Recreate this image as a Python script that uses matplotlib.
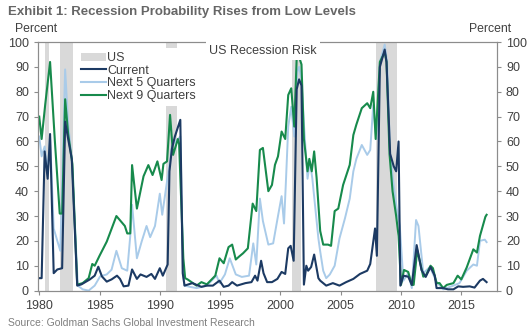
import matplotlib
matplotlib.use("Agg")
import matplotlib.pyplot as plt
from matplotlib.patches import Patch
from matplotlib.lines import Line2D

plt.rcParams["font.family"] = ["Liberation Sans", "DejaVu Sans"]

# Recession shading (start, end) as fractional years
recessions = [(1980.5, 1980.8), (1981.75, 1982.8), (1990.5, 1991.45),
              (2000.95, 2001.7), (2007.9, 2009.7)]

# Current
current_t = [1980.0, 1980.2, 1980.45, 1980.7, 1980.9, 1981.2, 1981.5, 1981.9, 1982.15, 1982.4,
             1982.7, 1983.15, 1983.5, 1984.2, 1984.6, 1984.9, 1985.2, 1985.6, 1986.0, 1986.45,
             1986.7, 1987.0, 1987.4, 1987.7, 1988.1, 1988.4, 1988.9, 1989.3, 1989.6, 1990.0,
             1990.25, 1990.65, 1990.8, 1991.0, 1991.25, 1991.7, 1991.9, 1992.05, 1992.7, 1993.45,
             1993.9, 1994.4, 1994.95, 1995.3, 1995.7, 1996.0, 1996.4, 1997.1, 1997.6, 1997.9,
             1998.1, 1998.4, 1998.6, 1998.9, 1999.3, 1999.75, 2000.1, 2000.4, 2000.65, 2000.85,
             2001.1, 2001.35, 2001.55, 2001.75, 2001.95, 2002.15, 2002.3, 2002.55, 2002.8, 2003.15,
             2003.3, 2003.8, 2004.35, 2004.9, 2005.45, 2006.05, 2006.6, 2007.2, 2007.45, 2007.85,
             2008.0, 2008.25, 2008.65, 2008.8, 2009.1, 2009.4, 2009.6, 2009.8, 2009.95, 2010.2,
             2010.6, 2010.9, 2011.3, 2011.7, 2012.05, 2012.45, 2012.8, 2012.95, 2013.5, 2013.9,
             2014.35, 2014.75, 2015.15, 2015.7, 2016.1, 2016.55, 2016.8, 2017.1]
current_v = [5, 5, 56, 45, 63, 7, 8.5, 9, 68, 61,
             53, 2, 2.5, 4.5, 6, 9.6, 5.7, 3.6, 4.5, 6,
             4.7, 1.7, 2, 8.5, 4.7, 6.5, 5.5, 6.7, 4.7, 9,
             6, 10.5, 48, 57, 62, 68.7, 7, 2, 3, 1.5,
             2, 2, 4, 1.5, 2, 3.4, 2, 3, 3.4, 6,
             4, 12, 7, 3.4, 3.4, 4.7, 7.5, 6.7, 17, 18,
             12, 81, 85, 82.5, 2.4, 10, 8, 9.5, 14.5, 5,
             4, 2, 3, 2, 3.4, 4.7, 6.7, 8, 10.7, 25,
             14, 90, 97, 92, 55, 50, 48, 60, 2, 6,
             5.6, 2.3, 18.3, 8.3, 5.5, 9.5, 6, 1, 1, 0.5,
             0.5, 1.7, 1.5, 1.7, 1.2, 4, 4.7, 3.4]

# Next 5 Quarters
next5_t = [1980.0, 1980.2, 1980.45, 1980.7, 1980.9, 1981.2, 1981.5, 1981.75, 1982.15, 1982.4,
           1982.7, 1983.2, 1983.6, 1984.1, 1984.6, 1985.05, 1985.6, 1986.0, 1986.4, 1986.85,
           1987.3, 1987.55, 1987.7, 1988.1, 1988.5, 1988.9, 1989.2, 1989.6, 1990.0, 1990.2,
           1990.6, 1990.85, 1991.0, 1991.3, 1991.7, 1991.95, 1992.05, 1992.5, 1993.05, 1993.9,
           1994.7, 1994.95, 1995.4, 1995.8, 1996.3, 1996.8, 1997.4, 1997.75, 1998.0, 1998.3,
           1998.55, 1999.0, 1999.4, 1999.8, 2000.1, 2000.3, 2000.45, 2000.65, 2000.9, 2001.15,
           2001.4, 2001.55, 2001.75, 2001.95, 2002.25, 2002.45, 2002.65, 2003.15, 2003.3, 2003.55,
           2003.8, 2004.1, 2004.5, 2004.9, 2005.35, 2005.75, 2006.05, 2006.3, 2006.75, 2007.2,
           2007.45, 2007.7, 2007.95, 2008.25, 2008.65, 2008.85, 2009.1, 2009.4, 2009.65, 2009.9,
           2010.2, 2010.6, 2010.9, 2011.25, 2011.45, 2011.85, 2012.4, 2012.95, 2013.5, 2014.35,
           2014.85, 2015.45, 2016.0, 2016.3, 2016.55, 2016.95, 2017.1]
next5_v = [62, 54, 58, 48, 62, 25, 20, 16, 89, 67,
           53, 2, 0.5, 0, 2, 5.7, 6.5, 8.4, 16, 9,
           8, 22, 34.5, 13, 19.8, 26, 21.5, 26, 39, 30.5,
           44, 52, 58, 60, 62, 6, 2, 1.5, 1, 2,
           6, 3, 6.5, 13, 6.5, 5.5, 6, 19, 10.5, 37,
           28, 18.5, 19, 30, 38, 27, 43, 66, 74, 62,
           88, 90, 85, 67, 45, 52, 45, 21, 15.8, 8,
           5, 6.5, 10, 21, 29, 37, 48, 53, 58.6, 54.6,
           56.6, 74.7, 61, 92, 99, 92, 55, 42, 33, 26,
           4, 7, 1, 28.4, 26, 7, 9.5, 3.5, 0.5, 2,
           3, 8, 10.5, 10, 20, 20.5, 19.5]

# Next 9 Quarters
next9_t = [1980.0, 1980.2, 1980.5, 1980.9, 1981.3, 1981.7, 1981.9, 1982.15, 1982.4, 1982.75,
           1983.15, 1983.6, 1984.1, 1984.4, 1984.6, 1985.0, 1985.6, 1986.4, 1987.1, 1987.3,
           1987.55, 1987.7, 1988.1, 1988.65, 1989.05, 1989.4, 1989.8, 1990.15, 1990.3, 1990.6,
           1990.85, 1991.1, 1991.5, 1991.6, 1991.95, 1992.1, 1992.3, 1993.05, 1993.45, 1993.9,
           1994.6, 1994.95, 1995.3, 1995.7, 1996.0, 1996.3, 1996.6, 1996.9, 1997.3, 1997.7,
           1998.0, 1998.3, 1998.55, 1999.0, 1999.3, 1999.55, 1999.8, 2000.1, 2000.4, 2000.65,
           2000.9, 2001.15, 2001.35, 2001.55, 2001.75, 2001.95, 2002.25, 2002.4, 2002.6, 2002.8,
           2003.0, 2003.3, 2003.55, 2003.95, 2004.2, 2004.5, 2004.8, 2005.2, 2005.75, 2006.05,
           2006.3, 2006.75, 2007.2, 2007.45, 2007.7, 2007.9, 2008.25, 2008.65, 2008.8, 2009.05,
           2009.3, 2009.6, 2009.8, 2010.0, 2010.25, 2010.6, 2010.9, 2011.05, 2011.35, 2011.85,
           2012.05, 2012.45, 2012.65, 2012.95, 2013.2, 2013.5, 2013.8, 2014.35, 2014.7, 2015.0,
           2015.45, 2016.0, 2016.3, 2016.55, 2017.0, 2017.1]
next9_v = [70, 61, 75, 92, 60, 31, 31, 77, 63, 51,
           2.4, 3, 5, 10.7, 10, 14, 19.7, 30, 26, 23,
           23, 50.5, 33, 46, 50.5, 46.5, 52, 44.5, 51, 52,
           70.7, 54.6, 61, 59, 13, 5, 4.5, 2, 3.4, 2.5,
           6, 13, 11, 17.5, 18.5, 12.5, 13.8, 15, 17, 35,
           32, 56.6, 57.4, 40, 42.5, 50.6, 54, 64, 61, 78.7,
           81.4, 66, 93.5, 94, 91, 61, 48, 53, 48, 56,
           45.5, 24, 18.5, 18.5, 18, 32, 33, 42.5, 50.6, 62.6,
           66.8, 73.4, 75.4, 73.4, 80, 61, 92, 96, 92, 55,
           40, 30, 22, 2.3, 8.3, 7.5, 2.3, 2.3, 16.3, 5.6,
           6, 10, 9, 3, 3, 1, 2.3, 3, 6, 4.5,
           9.3, 16.6, 15.3, 22, 29.7, 30.5]

y_ticks = list(range(0, 101, 10))
x_ticks = [1980, 1985, 1990, 1995, 2000, 2005, 2010, 2015]

NAVY = "#1c3a63"
LIGHT = "#a9cbe9"
GREEN = "#178a4c"
BAND = "#d9d9d9"
SPINE = "#8c8c8c"
TXT = "#404040"

fig = plt.figure(figsize=(5.28, 3.34), dpi=100)
ax = fig.add_axes([0.072, 0.13, 0.869, 0.744])

for start, end in recessions:
    ax.axvspan(start, end, color=BAND, lw=0, zorder=0)

ax.plot(next5_t, next5_v, color=LIGHT, lw=1.4, zorder=2)
ax.plot(next9_t, next9_v, color=GREEN, lw=1.5, zorder=3)
ax.plot(current_t, current_v, color=NAVY, lw=1.5, zorder=4)

ax.set_xlim(1979.9, 2017.95)
ax.set_ylim(0, 100)
ax.set_xticks(x_ticks)
ax.set_yticks(y_ticks)
ax.tick_params(axis="both", labelsize=9, colors=SPINE, labelcolor=TXT, length=3, width=0.8)
for s in ax.spines.values():
    s.set_color(SPINE)
    s.set_linewidth(0.8)

ax2 = ax.twinx()
ax2.set_ylim(0, 100)
ax2.set_yticks(y_ticks)
ax2.tick_params(axis="y", labelsize=9, colors=SPINE, labelcolor=TXT, length=3, width=0.8)
for s in ax2.spines.values():
    s.set_color(SPINE)
    s.set_linewidth(0.8)

handles = [Patch(facecolor=BAND, edgecolor="none"),
           Line2D([], [], color=NAVY, lw=1.5),
           Line2D([], [], color=LIGHT, lw=1.5),
           Line2D([], [], color=GREEN, lw=1.5)]
labels = ["US", "Current", "Next 5 Quarters", "Next 9 Quarters"]
leg = ax2.legend(handles, labels, loc="upper left", bbox_to_anchor=(0.085, 0.975),
                 fontsize=9, frameon=True, facecolor="white", edgecolor="none",
                 framealpha=1, fancybox=False, borderpad=0.3, labelspacing=0.05,
                 handlelength=2.0, handleheight=0.6, handletextpad=0.1, borderaxespad=0)
for t in leg.get_texts():
    t.set_color(TXT)

ax2.text(0.49, 0.965, "US Recession Risk", transform=ax.transAxes, ha="center", va="center",
         fontsize=9, color=TXT,
         bbox=dict(facecolor="white", edgecolor="none", pad=2.5))

fig.text(0.015, 0.965, "Exhibit 1: Recession Probability Rises from Low Levels",
         fontsize=9.5, fontweight="bold", color="#666666", va="center")
fig.text(0.068, 0.912, "Percent", fontsize=8.8, color=TXT, ha="center", va="center")
fig.text(0.929, 0.912, "Percent", fontsize=8.8, color=TXT, ha="center", va="center")
fig.text(0.015, 0.032, "Source: Goldman Sachs Global Investment Research",
         fontsize=7.5, color="#7f7f7f", va="center")

fig.savefig("out.png", dpi=100)
